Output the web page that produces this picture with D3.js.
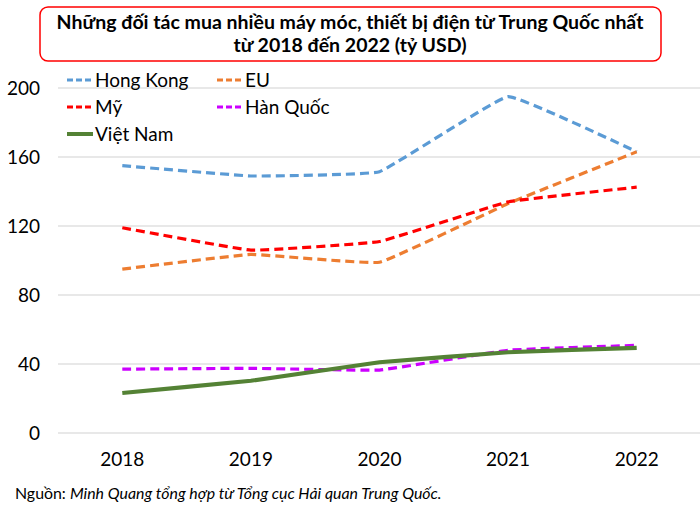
<!DOCTYPE html>
<html><head><meta charset="utf-8">
<script src="https://cdn.jsdelivr.net/npm/d3@7"></script>
<style>body{margin:0;background:#fff}svg{display:block}text{font-family:Lato,"Open Sans",sans-serif}</style>
</head><body><svg id="c" width="700" height="511"></svg>
<script>
const years = ["2018","2019","2020","2021","2022"];
const yTicks = [0,40,80,120,160,200];
const hongKong = [155, 149, 151.5, 195, 163];
const eu = [95, 103.5, 99, 133, 163];
const my = [119, 106, 111, 134, 142.5];
const hanQuoc = [37, 37.5, 36.5, 48, 50.8];
const vietNam = [23.2, 30.3, 41, 46.8, 49.4];
const seriesNames = ["Hong Kong","EU","Mỹ","Hàn Quốc","Việt Nam"];
const colors = ["#5B9BD5","#ED7D31","#FF0000","#CC00FF","#548235"];
const title = ["Những đối tác mua nhiều máy móc, thiết bị điện từ Trung Quốc nhất","từ 2018 đến 2022 (tỷ USD)"];

const series = [hongKong, eu, my, hanQuoc, vietNam].map((v,i)=>({name:seriesNames[i], values:v, color:colors[i], dashed:i<4}));

const svg = d3.select("#c");
const x = d3.scaleBand().domain(years).range([58,701]);
const y = d3.scaleLinear().domain([0,200]).range([433,88]);

svg.append("g").selectAll("line").data(yTicks).join("line")
  .attr("x1",58).attr("x2",700).attr("y1",d=>y(d)).attr("y2",d=>y(d))
  .attr("stroke","#e0e0e0").attr("stroke-width",1.3);

const yAxis = svg.append("g").attr("transform","translate(40,0)")
  .call(d3.axisLeft(y).tickValues(yTicks).tickSize(0).tickPadding(0));
yAxis.select(".domain").remove();
yAxis.selectAll("text").attr("font-size",19).attr("fill","#000").attr("font-family","Lato").attr("dy","0.35em");

const xAxis = svg.append("g").attr("transform","translate(0,452)")
  .call(d3.axisBottom(x).tickSize(0).tickPadding(0));
xAxis.select(".domain").remove();
xAxis.selectAll("text").attr("font-size",19).attr("fill","#000").attr("font-family","Lato").attr("dy","0.71em");

const line = d3.line().x((d,i)=>x(years[i])+x.bandwidth()/2).y(d=>y(d)).curve(d3.curveCardinal.tension(0.75));

svg.append("g").selectAll("path").data(series).join("path")
  .attr("d",d=>line(d.values)).attr("fill","none")
  .attr("stroke",d=>d.color).attr("stroke-width",d=>d.dashed?3.2:4.2)
  .attr("stroke-dasharray",d=>d.dashed?"9,5":null);

const legPos = [[67,80],[217,80],[67,107],[217,107],[67,134]];
const leg = svg.append("g").selectAll("g").data(series).join("g")
  .attr("transform",(d,i)=>`translate(${legPos[i][0]},${legPos[i][1]})`);
leg.append("line").attr("x1",0).attr("x2",26).attr("y1",0).attr("y2",0)
  .attr("stroke",d=>d.color).attr("stroke-width",d=>d.dashed?3:4)
  .attr("stroke-dasharray",d=>d.dashed?"6,3":null);
leg.append("text").attr("x",28).attr("y",0).attr("dy","0.35em")
  .attr("font-size",19).attr("fill","#000").text(d=>d.name);

svg.append("rect").attr("x",40).attr("y",7).attr("width",621).attr("height",54)
  .attr("rx",8).attr("fill","#fff").attr("stroke","#FF0000").attr("stroke-width",1.5);
svg.append("g").selectAll("text").data(title).join("text")
  .attr("x",350).attr("y",(d,i)=>29+i*23).attr("text-anchor","middle")
  .attr("font-size",19.5).attr("font-weight","bold").attr("fill","#000").text(d=>d);

const src = svg.append("text").attr("x",15).attr("y",499).attr("font-size",15.9).attr("fill","#000");
src.append("tspan").text("Nguồn: ");
src.append("tspan").attr("font-style","italic").text("Minh Quang tổng hợp từ Tổng cục Hải quan Trung Quốc.");
</script></body></html>
